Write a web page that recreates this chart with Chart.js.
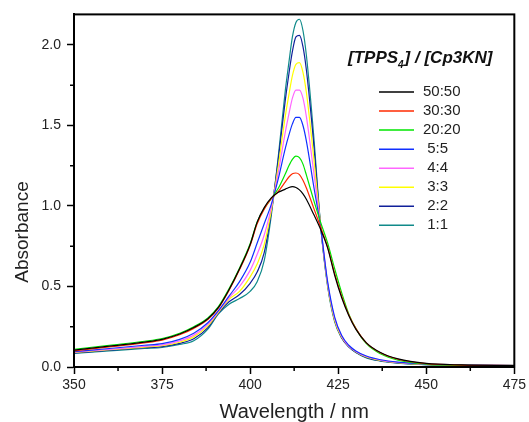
<!DOCTYPE html>
<html>
<head>
<meta charset="utf-8">
<script src="https://cdn.jsdelivr.net/npm/chart.js@4"></script>
<style>
  html, body { margin: 0; padding: 0; background: #fff; }
</style>
</head>
<body>
<canvas id="absChart" width="529" height="422"></canvas>
<script>
// wavelengths (nm), shared by all spectra
const wavelengths = [350, 360, 370, 375, 380, 384, 388, 391, 394, 397, 400, 402, 404, 406, 408, 410, 411, 412, 413, 414, 415, 416, 418, 420, 422, 424, 426, 428, 430, 433, 437, 442, 450, 460, 475];

const labels = ["50:50", "30:30", "20:20", "5:5", "4:4", "3:3", "2:2", "1:1"];
const colors = ["#000000", "#ff2a00", "#00e600", "#1030ff", "#ff66ff", "#ffff00", "#10209a", "#108a8a"];

const abs5050 = [0.105, 0.13, 0.155, 0.172, 0.205, 0.245, 0.30, 0.37, 0.48, 0.61, 0.76, 0.90, 0.99, 1.05, 1.085, 1.105, 1.115, 1.12, 1.115, 1.10, 1.075, 1.04, 0.95, 0.855, 0.74, 0.57, 0.43, 0.32, 0.235, 0.15, 0.09, 0.05, 0.022, 0.013, 0.01];
const abs3030 = [0.10, 0.125, 0.15, 0.167, 0.20, 0.24, 0.295, 0.365, 0.475, 0.605, 0.755, 0.89, 0.98, 1.045, 1.09, 1.15, 1.18, 1.20, 1.205, 1.195, 1.16, 1.11, 0.99, 0.87, 0.745, 0.58, 0.44, 0.325, 0.24, 0.15, 0.088, 0.048, 0.021, 0.012, 0.009];
const abs2020 = [0.11, 0.135, 0.16, 0.177, 0.21, 0.25, 0.305, 0.375, 0.485, 0.615, 0.765, 0.90, 0.985, 1.045, 1.11, 1.20, 1.25, 1.29, 1.31, 1.30, 1.26, 1.19, 1.04, 0.90, 0.77, 0.61, 0.46, 0.33, 0.24, 0.145, 0.082, 0.042, 0.018, 0.01, 0.008];
const abs55 = [0.095, 0.115, 0.135, 0.145, 0.172, 0.21, 0.275, 0.35, 0.44, 0.53, 0.65, 0.77, 0.89, 1.01, 1.17, 1.36, 1.44, 1.51, 1.55, 1.55, 1.50, 1.40, 1.13, 0.87, 0.53, 0.31, 0.195, 0.135, 0.10, 0.068, 0.045, 0.03, 0.018, 0.012, 0.009];
const abs44 = [0.092, 0.11, 0.128, 0.137, 0.162, 0.198, 0.265, 0.345, 0.43, 0.50, 0.60, 0.70, 0.82, 0.99, 1.21, 1.46, 1.57, 1.67, 1.72, 1.72, 1.67, 1.55, 1.22, 0.88, 0.52, 0.30, 0.19, 0.13, 0.097, 0.065, 0.043, 0.028, 0.017, 0.011, 0.009];
const abs33 = [0.09, 0.107, 0.124, 0.132, 0.154, 0.187, 0.255, 0.34, 0.42, 0.47, 0.56, 0.64, 0.76, 0.97, 1.25, 1.56, 1.69, 1.81, 1.88, 1.89, 1.83, 1.70, 1.31, 0.88, 0.51, 0.29, 0.185, 0.13, 0.095, 0.062, 0.041, 0.027, 0.016, 0.011, 0.008];
const abs22 = [0.088, 0.104, 0.12, 0.127, 0.147, 0.175, 0.245, 0.335, 0.405, 0.45, 0.52, 0.59, 0.71, 0.96, 1.29, 1.66, 1.82, 1.96, 2.05, 2.06, 1.99, 1.84, 1.40, 0.88, 0.51, 0.29, 0.18, 0.125, 0.092, 0.06, 0.039, 0.025, 0.015, 0.01, 0.008];
const abs11 = [0.085, 0.10, 0.115, 0.121, 0.14, 0.163, 0.235, 0.33, 0.39, 0.425, 0.47, 0.53, 0.66, 0.94, 1.31, 1.72, 1.89, 2.05, 2.14, 2.16, 2.09, 1.93, 1.45, 0.88, 0.50, 0.28, 0.18, 0.125, 0.09, 0.057, 0.037, 0.024, 0.014, 0.01, 0.008];

const series = [abs5050, abs3030, abs2020, abs55, abs44, abs33, abs22, abs11];

// ticks
const xMajor = [350, 375, 400, 425, 450, 475];
const xMinor = [362.5, 387.5, 412.5, 437.5, 462.5];
const yMajor = [0.0, 0.5, 1.0, 1.5, 2.0];
const yMinor = [0.25, 0.75, 1.25, 1.75];

const FONT = "Arial, 'Liberation Sans', sans-serif";

const frameAndLabels = {
    id: "frameAndLabels",
    afterDraw(chart) {
        const ctx = chart.ctx;
        const area = chart.chartArea;
        const xs = chart.scales.x;
        const ys = chart.scales.y;

        ctx.save();
        // box
        ctx.strokeStyle = "#000";
        ctx.lineWidth = 2;
        ctx.strokeRect(area.left, area.top, area.right - area.left, area.bottom - area.top);

        // minor ticks
        ctx.lineWidth = 1.5;
        ctx.beginPath();
        xMinor.forEach(v => {
            const px = xs.getPixelForValue(v);
            ctx.moveTo(px, area.bottom);
            ctx.lineTo(px, area.bottom + 4);
        });
        yMinor.forEach(v => {
            const py = ys.getPixelForValue(v);
            ctx.moveTo(area.left, py);
            ctx.lineTo(area.left - 4, py);
        });
        ctx.stroke();

        // axis titles
        ctx.fillStyle = "#222";
        ctx.font = "20px " + FONT;
        ctx.textAlign = "center";
        ctx.textBaseline = "alphabetic";
        ctx.fillText("Wavelength / nm", (area.left + area.right) / 2, 418);

        ctx.save();
        ctx.translate(23, 232);
        ctx.rotate(-Math.PI / 2);
        ctx.font = "19px " + FONT;
        ctx.textBaseline = "middle";
        ctx.fillText("Absorbance", 0, 0);
        ctx.restore();

        // legend title
        ctx.textAlign = "left";
        ctx.textBaseline = "alphabetic";
        ctx.fillStyle = "#111";
        let tx = 348;
        const ty = 63;
        ctx.font = "italic bold 17px " + FONT;
        ctx.fillText("[TPPS", tx, ty);
        tx += ctx.measureText("[TPPS").width;
        ctx.font = "italic bold 10px " + FONT;
        ctx.fillText("4", tx, ty + 5);
        tx += ctx.measureText("4").width + 1;
        ctx.font = "italic bold 17px " + FONT;
        ctx.fillText("] / [Cp3KN]", tx, ty);

        // legend entries
        ctx.font = "15px " + FONT;
        ctx.textBaseline = "middle";
        chart.data.datasets.forEach((ds, i) => {
            const y = 92 + i * 19.05;
            ctx.strokeStyle = ds.borderColor;
            ctx.lineWidth = 1.5;
            ctx.beginPath();
            ctx.moveTo(379, y);
            ctx.lineTo(414, y);
            ctx.stroke();
            ctx.fillStyle = "#222";
            const txt = (ds.label.length < 5 ? " " : "") + ds.label;
            ctx.fillText(txt, 423, y);
        });
        ctx.restore();
    }
};

new Chart(document.getElementById("absChart"), {
    type: "line",
    data: {
        datasets: series.map((vals, i) => ({
            label: labels[i],
            data: wavelengths.map((w, j) => ({ x: w, y: vals[j] })),
            borderColor: colors[i],
            borderWidth: 1.2,
            pointRadius: 0,
            fill: false,
            cubicInterpolationMode: "monotone"
        }))
    },
    options: {
        responsive: false,
        animation: false,
        layout: { padding: { top: 12, right: 14, left: 0, bottom: 0 } },
        plugins: {
            legend: { display: false },
            tooltip: { enabled: false }
        },
        scales: {
            x: {
                type: "linear",
                min: 350,
                max: 475,
                afterBuildTicks: s => { s.ticks = xMajor.map(v => ({ value: v })); },
                afterFit: s => { s.height = 55; },
                grid: { drawOnChartArea: false, tickLength: 7, tickWidth: 1.5, tickColor: "#000" },
                border: { color: "#000", width: 2 },
                ticks: {
                    color: "#222",
                    font: { family: FONT, size: 14 },
                    padding: 3,
                    maxRotation: 0,
                    autoSkip: false,
                    callback: v => String(v)
                }
            },
            y: {
                min: 0,
                max: 2.19,
                afterBuildTicks: s => { s.ticks = yMajor.map(v => ({ value: v })); },
                afterFit: s => { s.width = 74; },
                grid: { drawOnChartArea: false, tickLength: 7, tickWidth: 1.5, tickColor: "#000" },
                border: { color: "#000", width: 2 },
                ticks: {
                    color: "#222",
                    font: { family: FONT, size: 14 },
                    padding: 6,
                    autoSkip: false,
                    callback: v => v.toFixed(1)
                }
            }
        }
    },
    plugins: [frameAndLabels]
});
</script>
</body>
</html>
